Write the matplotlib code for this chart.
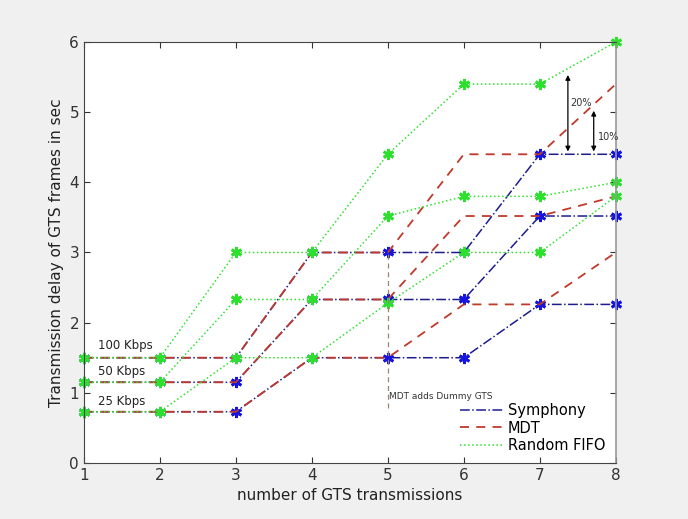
import matplotlib
matplotlib.use("Agg")
import matplotlib.pyplot as plt
from matplotlib.lines import Line2D

# number of GTS transmissions
x = [1, 2, 3, 4, 5, 6, 7, 8]

# delays in sec, one list per data rate
symphony_100 = [1.5, 1.5, 1.5, 3.0, 3.0, 3.0, 4.4, 4.4]
symphony_50 = [1.15, 1.15, 1.15, 2.33, 2.33, 2.33, 3.52, 3.52]
symphony_25 = [0.73, 0.73, 0.73, 1.5, 1.5, 1.5, 2.26, 2.26]

mdt_100 = [1.5, 1.5, 1.5, 3.0, 3.0, 4.4, 4.4, 5.4]
mdt_50 = [1.15, 1.15, 1.15, 2.33, 2.33, 3.52, 3.52, 3.8]
mdt_25 = [0.73, 0.73, 0.73, 1.5, 1.5, 2.26, 2.26, 3.0]

fifo_100 = [1.5, 1.5, 3.0, 3.0, 4.4, 5.4, 5.4, 6.0]
fifo_50 = [1.15, 1.15, 2.33, 2.33, 3.52, 3.8, 3.8, 4.0]
fifo_25 = [0.73, 0.73, 1.5, 1.5, 2.28, 3.0, 3.0, 3.8]

rate_labels = ["100 Kbps", "50 Kbps", "25 Kbps"]
rate_label_y = [1.68, 1.30, 0.88]

BLUE = "#1c1c8f"
RED = "#c0392b"
GREEN = "#2ee02e"
ASTERISK = (6, 2, 0)

fig = plt.figure(figsize=(6.88, 5.19), dpi=100)
fig.patch.set_facecolor("#f0f0f0")
ax = fig.add_axes([0.122, 0.108, 0.773, 0.811])

for ys in (symphony_100, symphony_50, symphony_25):
    ax.plot(x, ys, color=BLUE, linestyle="-.", linewidth=1.1, clip_on=False,
            marker=ASTERISK, markersize=8, markeredgewidth=2, markeredgecolor="#1515dd")
for ys in (mdt_100, mdt_50, mdt_25):
    ax.plot(x, ys, color=RED, linestyle=(0, (5, 4)), linewidth=1.3)
for ys in (fifo_100, fifo_50, fifo_25):
    ax.plot(x, ys, color=GREEN, linestyle=":", linewidth=1.1, clip_on=False,
            marker=ASTERISK, markersize=8, markeredgewidth=2, markeredgecolor=GREEN)

# dummy GTS marker line
ax.plot([5, 5], [0.78, 3.0], color="#a08070", linestyle=(0, (4, 3)), linewidth=0.9)
ax.text(5.02, 0.95, "MDT adds Dummy GTS", fontsize=6.5, color="#333333", va="center")

# percentage arrows
ax.annotate("", xy=(7.37, 5.57), xytext=(7.37, 4.4),
            arrowprops=dict(arrowstyle="<|-|>", color="black", lw=0.9, mutation_scale=7))
ax.annotate("", xy=(7.71, 5.06), xytext=(7.71, 4.4),
            arrowprops=dict(arrowstyle="<|-|>", color="black", lw=0.9, mutation_scale=7))
ax.text(7.4, 5.13, "20%", fontsize=7, color="#333333", va="center")
ax.text(7.76, 4.64, "10%", fontsize=7, color="#333333", va="center")

for lbl, ly in zip(rate_labels, rate_label_y):
    ax.text(1.18, ly, lbl, fontsize=8.5, color="#222222", va="center")

handles = [Line2D([], [], color=BLUE, linestyle="-.", linewidth=1.1),
           Line2D([], [], color=RED, linestyle=(0, (5, 4)), linewidth=1.3),
           Line2D([], [], color=GREEN, linestyle=":", linewidth=1.1)]
ax.legend(handles, ["Symphony", "MDT", "Random FIFO"], loc="lower right",
          frameon=False, fontsize=10.5, handlelength=3,
          handletextpad=0.3, borderaxespad=0.3, labelspacing=0.15)

ax.set_xlim(1, 8)
ax.set_ylim(0, 6)
ax.set_xticks(x)
ax.set_yticks(range(0, 7))
ax.tick_params(direction="in", top=True, right=True, labelsize=11, colors="#333333",
               length=4)
for s in ax.spines.values():
    s.set_color("#444444")
    s.set_linewidth(0.8)
ax.spines["right"].set_color("#999999")
ax.spines["right"].set_linewidth(1.2)

ax.set_xlabel("number of GTS transmissions", fontsize=11, color="#222222")
ax.set_ylabel("Transmission delay of GTS frames in sec", fontsize=11, color="#222222")

fig.savefig("out.png", dpi=100, facecolor=fig.get_facecolor())
